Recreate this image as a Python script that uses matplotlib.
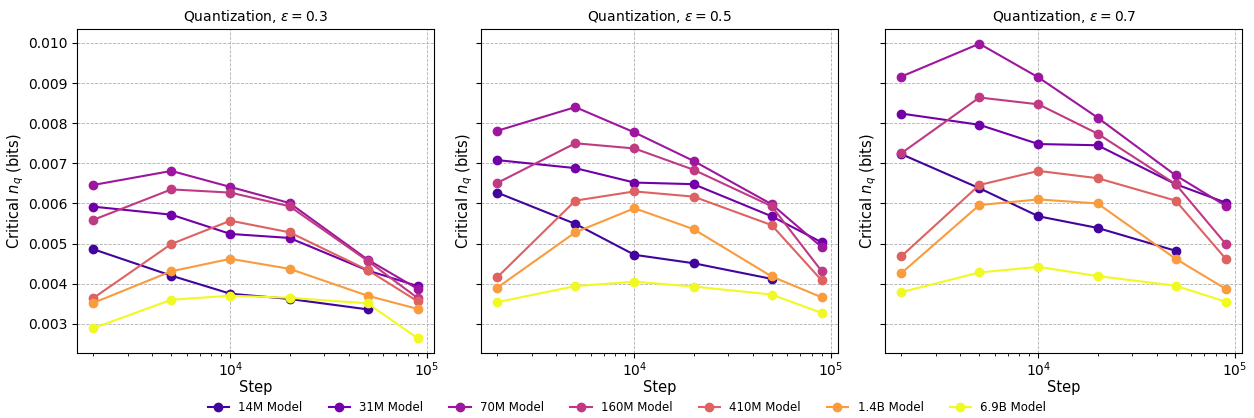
import numpy as np
import matplotlib.pyplot as plt

steps = [2000, 5000, 10000, 20000, 50000, 90000]
models = ['14M Model', '31M Model', '70M Model', '160M Model', '410M Model', '1.4B Model', '6.9B Model']
model_sizes = [14e6, 31e6, 70e6, 160e6, 410e6, 1.4e9, 6.9e9]
epsilons = [0.3, 0.5, 0.7]

# critical n_q per model, one list per epsilon (14M has no point at the last step)
eps03 = [
    [0.00486, 0.00420, 0.00375, 0.00362, 0.00336],
    [0.00592, 0.00572, 0.00524, 0.00514, 0.00433, 0.00394],
    [0.00646, 0.00681, 0.00641, 0.00601, 0.00460, 0.00387],
    [0.00559, 0.00635, 0.00627, 0.00593, 0.00457, 0.00364],
    [0.00364, 0.00499, 0.00557, 0.00528, 0.00434, 0.00356],
    [0.00352, 0.00431, 0.00462, 0.00437, 0.00370, 0.00337],
    [0.00289, 0.00360, 0.00370, 0.00365, 0.00351, 0.00264],
]
eps05 = [
    [0.00627, 0.00549, 0.00472, 0.00451, 0.00412],
    [0.00708, 0.00688, 0.00652, 0.00648, 0.00568, 0.00503],
    [0.00781, 0.00840, 0.00777, 0.00706, 0.00598, 0.00491],
    [0.00651, 0.00750, 0.00737, 0.00684, 0.00593, 0.00431],
    [0.00416, 0.00607, 0.00630, 0.00617, 0.00546, 0.00408],
    [0.00390, 0.00528, 0.00588, 0.00536, 0.00418, 0.00366],
    [0.00354, 0.00394, 0.00405, 0.00393, 0.00373, 0.00327],
]
eps07 = [
    [0.00723, 0.00638, 0.00568, 0.00539, 0.00482],
    [0.00824, 0.00796, 0.00748, 0.00745, 0.00648, 0.00602],
    [0.00916, 0.00998, 0.00914, 0.00814, 0.00670, 0.00594],
    [0.00725, 0.00864, 0.00847, 0.00774, 0.00648, 0.00499],
    [0.00468, 0.00646, 0.00681, 0.00663, 0.00607, 0.00462],
    [0.00426, 0.00596, 0.00610, 0.00600, 0.00462, 0.00387],
    [0.00379, 0.00428, 0.00442, 0.00419, 0.00395, 0.00355],
]
all_data = [eps03, eps05, eps07]

# colours from plasma, spaced by log model size
t = np.log10(model_sizes)
t = (t - t.min()) / (t.max() - t.min())
colors = plt.cm.plasma(0.1 + 0.9 * t)

fig, axes = plt.subplots(1, 3, figsize=(12.54, 4.18), dpi=100, sharey=True)
fig.subplots_adjust(left=77/1254, right=1242/1254, top=1-29/418, bottom=1-353/418, wspace=47/357)

for ax, eps, data in zip(axes, epsilons, all_data):
    for name, vals, c in zip(models, data, colors):
        ax.plot(steps[:len(vals)], vals, marker='o', markersize=6, linewidth=1.5, color=c, label=name)
    ax.set_xscale('log')
    ax.set_title(r'Quantization, $\epsilon = %s$' % eps, fontsize=10)
    ax.set_xlabel('Step', fontsize=10.5, labelpad=1)
    ax.set_ylabel(r'Critical $n_q$ (bits)', fontsize=10.5, labelpad=1)
    ax.tick_params(axis='x', which='both', pad=1.5)
    ax.grid(True, linestyle='--', color='#b0b0b0', linewidth=0.6)

handles, labels = axes[0].get_legend_handles_labels()
fig.legend(handles, labels, loc='lower center', ncol=7, frameon=False, fontsize=8.5,
           bbox_to_anchor=(0.5, -0.015), handlelength=1.8, columnspacing=2.2)

fig.savefig('out.png', dpi=100)
